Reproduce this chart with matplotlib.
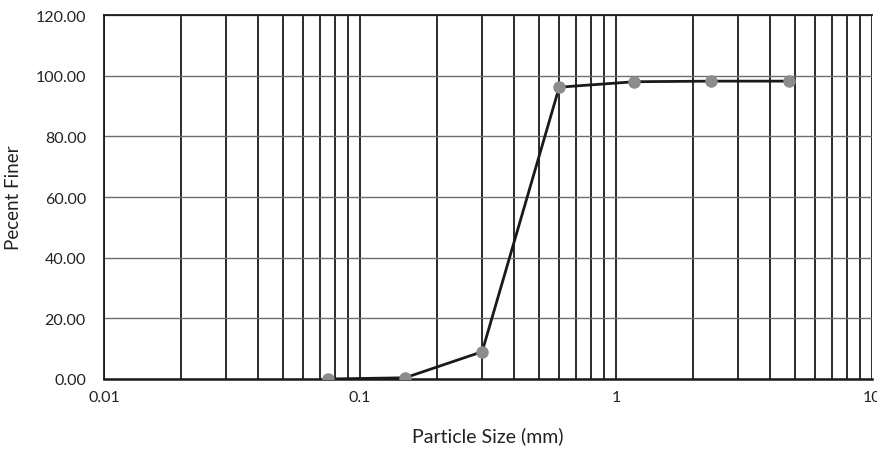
import numpy as np
import matplotlib
matplotlib.use("Agg")
import matplotlib.pyplot as plt
from matplotlib.ticker import FixedLocator, FuncFormatter, NullFormatter

# sieve sizes (mm) and percent finer
sieve_mm = [0.075, 0.15, 0.3, 0.6, 1.18, 2.36, 4.75]
pct_finer = [0.0, 0.4, 9.0, 96.2, 98.0, 98.2, 98.2]

x_ticks = [0.01, 0.1, 1, 10]
x_tick_labels = ["0.01", "0.1", "1", "10"]
y_ticks = [0, 20, 40, 60, 80, 100, 120]

plt.rcParams['font.family'] = ['Lato', 'DejaVu Sans']

fig = plt.figure(figsize=(8.77, 4.52), dpi=100)
ax = fig.add_axes([104/877, 72/452, 768/877, 364/452])
ax.set_xscale("log")
ax.set_xlim(0.01, 10)
ax.set_ylim(0, 120)

# minor vertical grid at 2..9 of each decade
minors = [m*10.0**e for e in range(-2, 1) for m in range(2, 10)]
ax.xaxis.set_major_locator(FixedLocator(x_ticks))
ax.xaxis.set_minor_locator(FixedLocator(minors))
ax.xaxis.set_major_formatter(FuncFormatter(lambda v, p: x_tick_labels[x_ticks.index(v)] if v in x_ticks else ""))
ax.xaxis.set_minor_formatter(NullFormatter())
ax.set_yticks(y_ticks)
ax.yaxis.set_major_formatter(FuncFormatter(lambda v, p: f"{v:.2f}"))

ax.grid(True, which="major", axis="x", color="#1a1a1a", linewidth=1.3)
ax.grid(True, which="minor", axis="x", color="#1a1a1a", linewidth=1.3)
ax.grid(True, which="major", axis="y", color="#6e6e6e", linewidth=1.0)
ax.set_axisbelow(True)

ax.plot(sieve_mm, pct_finer, color="#1a1a1a", linewidth=2, marker="o",
        markersize=8, markerfacecolor="#8c8c8c", markeredgecolor="#8c8c8c", zorder=3)

for s in ["top", "right"]:
    ax.spines[s].set_visible(False)
ax.spines["left"].set_color("#1a1a1a")
ax.spines["bottom"].set_color("#1a1a1a")
ax.spines["bottom"].set_linewidth(1.8)
ax.spines["left"].set_linewidth(1.3)
ax.axhline(120, color="#1a1a1a", linewidth=1.3, clip_on=False)

ax.tick_params(axis="both", which="both", length=0, labelsize=11.5, colors="#222222")
ax.tick_params(axis="y", pad=13)
ax.tick_params(axis="x", pad=8)

ax.set_xlabel("Particle Size (mm)", fontsize=14, color="#222222", labelpad=16)
ax.set_ylabel("Pecent Finer", fontsize=13.5, color="#222222", labelpad=10)

fig.savefig("out.png", dpi=100, facecolor="white")
